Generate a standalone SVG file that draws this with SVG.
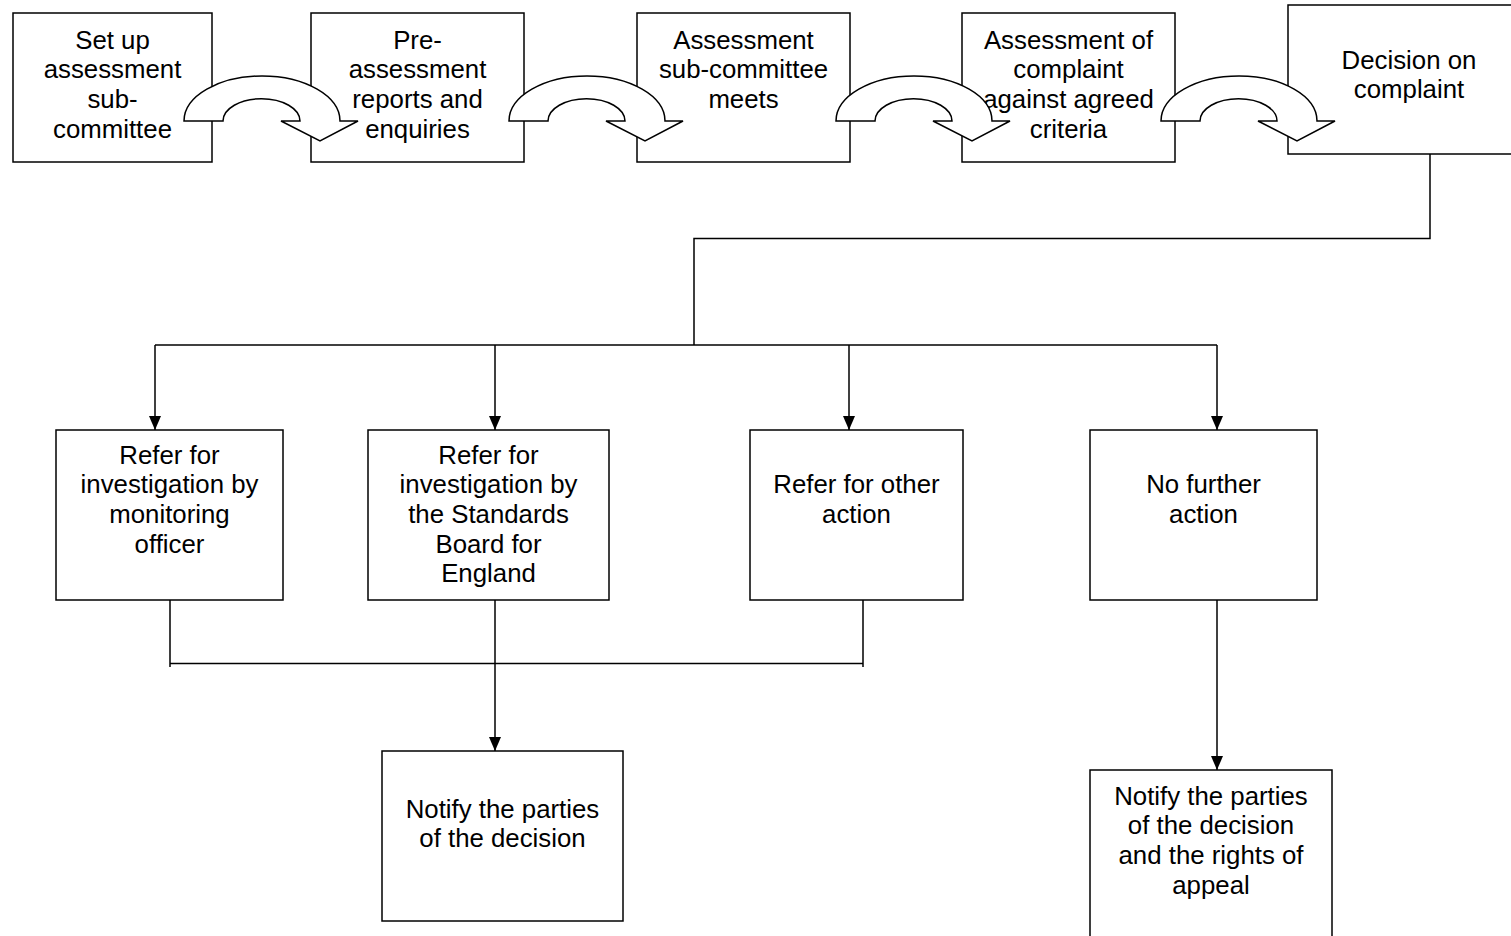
<svg xmlns="http://www.w3.org/2000/svg" width="1511" height="936" viewBox="0 0 1511 936">
<style>
.box{fill:#fff;stroke:#000;stroke-width:1.5}
.lbl{font-family:"Liberation Sans",Arial,sans-serif;font-size:25.8px;fill:#000;text-anchor:middle}
.ln{fill:none;stroke:#000;stroke-width:1.5}
.carrow{fill:#fff;stroke:#000;stroke-width:1.5;stroke-linejoin:miter}
</style>
<defs>
<marker id="ah" viewBox="0 0 14 12" refX="14" refY="6" markerWidth="14" markerHeight="12" markerUnits="userSpaceOnUse" orient="auto">
<path d="M0,0 L14,6 L0,12 Z" fill="#000"/>
</marker>
<path id="curv" d="M-78,121 A78,45 0 0 1 78,121 L96,121 L58,141 L19,121 L38,121 A38,22 0 0 0 -39,121 Z"/>
</defs>
<rect width="1511" height="936" fill="#fff"/>

<g id="n1"><rect class="box" x="13" y="13" width="199" height="149"/>
<text class="lbl"><tspan x="112.5" y="48.5">Set up</tspan><tspan x="112.5" y="78.2">assessment</tspan><tspan x="112.5" y="107.9">sub-</tspan><tspan x="112.5" y="137.6">committee</tspan></text></g>

<g id="n2"><rect class="box" x="311" y="13" width="213" height="149"/>
<text class="lbl"><tspan x="417.5" y="48.5">Pre-</tspan><tspan x="417.5" y="78.2">assessment</tspan><tspan x="417.5" y="107.9">reports and</tspan><tspan x="417.5" y="137.6">enquiries</tspan></text></g>

<g id="n3"><rect class="box" x="637" y="13" width="213" height="149"/>
<text class="lbl"><tspan x="743.5" y="48.5">Assessment</tspan><tspan x="743.5" y="78.2">sub-committee</tspan><tspan x="743.5" y="107.9">meets</tspan></text></g>

<g id="n4"><rect class="box" x="962" y="13" width="213" height="149"/>
<text class="lbl"><tspan x="1068.5" y="48.5">Assessment of</tspan><tspan x="1068.5" y="78.2">complaint</tspan><tspan x="1068.5" y="107.9">against agreed</tspan><tspan x="1068.5" y="137.6">criteria</tspan></text></g>

<g id="n5"><rect class="box" x="1288" y="5" width="242" height="149"/>
<text class="lbl"><tspan x="1409" y="68.5">Decision on</tspan><tspan x="1409" y="98.2">complaint</tspan></text></g>

<g id="nA"><rect class="box" x="56" y="430" width="227" height="170"/>
<text class="lbl"><tspan x="169.5" y="463.5">Refer for</tspan><tspan x="169.5" y="493.2">investigation by</tspan><tspan x="169.5" y="522.9">monitoring</tspan><tspan x="169.5" y="552.6">officer</tspan></text></g>

<g id="nB"><rect class="box" x="368" y="430" width="241" height="170"/>
<text class="lbl"><tspan x="488.5" y="463.5">Refer for</tspan><tspan x="488.5" y="493.2">investigation by</tspan><tspan x="488.5" y="522.9">the Standards</tspan><tspan x="488.5" y="552.6">Board for</tspan><tspan x="488.5" y="582.3">England</tspan></text></g>

<g id="nC"><rect class="box" x="750" y="430" width="213" height="170"/>
<text class="lbl"><tspan x="856.5" y="493.2">Refer for other</tspan><tspan x="856.5" y="522.9">action</tspan></text></g>

<g id="nD"><rect class="box" x="1090" y="430" width="227" height="170"/>
<text class="lbl"><tspan x="1203.5" y="493.2">No further</tspan><tspan x="1203.5" y="522.9">action</tspan></text></g>

<g id="nE"><rect class="box" x="382" y="751" width="241" height="170"/>
<text class="lbl"><tspan x="502.5" y="817.5">Notify the parties</tspan><tspan x="502.5" y="847.2">of the decision</tspan></text></g>

<g id="nF"><rect class="box" x="1090" y="770" width="242" height="200"/>
<text class="lbl"><tspan x="1211" y="804.5">Notify the parties</tspan><tspan x="1211" y="834.2">of the decision</tspan><tspan x="1211" y="863.9">and the rights of</tspan><tspan x="1211" y="893.6">appeal</tspan></text></g>

<g id="connectors">
<g id="curved-arrows">
<use href="#curv" class="carrow" x="262" y="0"/>
<use href="#curv" class="carrow" x="587" y="0"/>
<use href="#curv" class="carrow" x="914" y="0"/>
<use href="#curv" class="carrow" x="1239" y="0"/>
</g>
<path class="ln" d="M1430,154 V238.5 H694 V345"/>
<path class="ln" d="M155,345 H1217"/>
<path class="ln" d="M155,345 V430" marker-end="url(#ah)"/>
<path class="ln" d="M495,345 V430" marker-end="url(#ah)"/>
<path class="ln" d="M849,345 V430" marker-end="url(#ah)"/>
<path class="ln" d="M1217,345 V430" marker-end="url(#ah)"/>
<path class="ln" d="M170,600 V667 M170,663.5 H863 M863,600 V667"/>
<path class="ln" d="M495,600 V751" marker-end="url(#ah)"/>
<path class="ln" d="M1217,600 V770" marker-end="url(#ah)"/>
</g>
</svg>
